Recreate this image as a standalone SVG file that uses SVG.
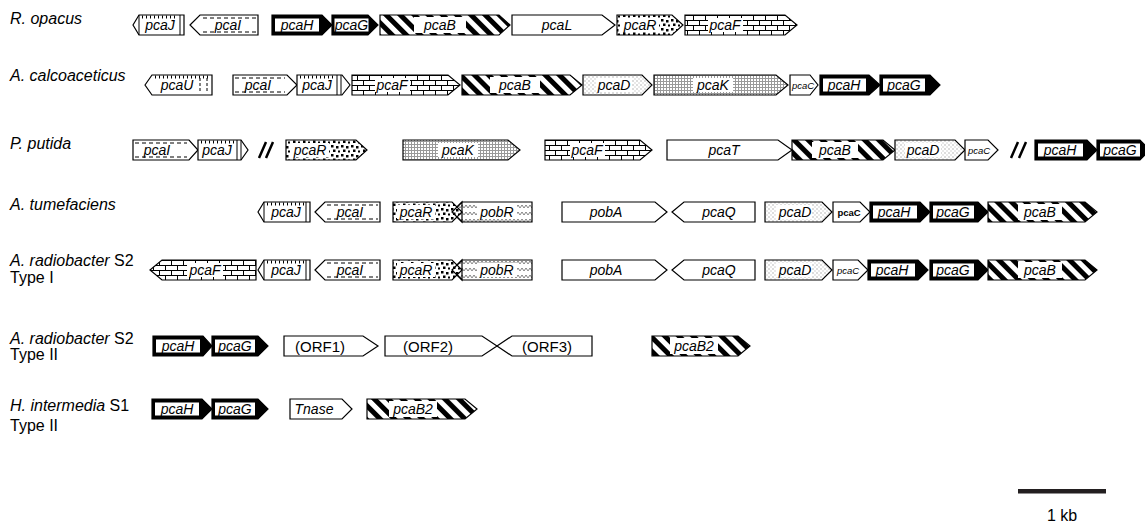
<svg xmlns="http://www.w3.org/2000/svg" width="1145" height="524" viewBox="0 0 1145 524">
<style>
.o{stroke:#000;stroke-width:1.2;stroke-linejoin:miter}
.w{fill:#fff}
.k{fill:#000}
.st{fill:url(#stripe)}
.br{fill:url(#brick)}
.dt{fill:url(#dots)}
.sp{fill:url(#stip)}
.gr{fill:url(#grid)}
.wv{fill:url(#wave)}
.nf{fill:none}
.bg{fill:#fff}
.tk{stroke:#000;stroke-width:3;stroke-dasharray:1 3;fill:none}
.ds{stroke:#000;stroke-width:1;stroke-dasharray:4 3;fill:none}
.ln{stroke:#000;stroke-width:1;fill:none}
.sl{stroke:#000;stroke-width:2.5;fill:none}
.t{font-family:"Liberation Sans",Arial,sans-serif;font-size:14px;font-style:italic;text-anchor:middle;fill:#000}
.c{font-family:"Liberation Sans",Arial,sans-serif;font-size:9.5px;font-style:italic;text-anchor:middle;fill:#000}
.cb{font-family:"Liberation Sans",Arial,sans-serif;font-size:9.5px;font-weight:bold;text-anchor:middle;fill:#000}
.n{font-family:"Liberation Sans",Arial,sans-serif;font-size:15px;text-anchor:middle;fill:#000}
.lb{font-family:"Liberation Sans",Arial,sans-serif;font-size:16px;fill:#000}
.i{font-style:italic}
</style>
<defs>
<pattern id="stripe" width="10" height="10" patternUnits="userSpaceOnUse" patternTransform="rotate(-45)">
<rect width="10" height="10" fill="#fff"/><rect width="5" height="10" fill="#000"/>
</pattern>
<pattern id="brick" width="12" height="10" patternUnits="userSpaceOnUse">
<rect width="12" height="10" fill="#fff"/>
<path d="M0 0.5H12M0 5.5H12M3.5 0.5V5.5M9.5 5.5V10" stroke="#000" stroke-width="1" fill="none"/>
</pattern>
<pattern id="dots" width="10" height="9" patternUnits="userSpaceOnUse">
<rect width="10" height="9" fill="#fff"/>
<rect x="1" y="1" width="2.5" height="2.5" fill="#000"/><rect x="6" y="2" width="2.5" height="2.5" fill="#000"/>
<rect x="3" y="5.5" width="2.5" height="2.5" fill="#000"/><rect x="8" y="6.5" width="2" height="2" fill="#000"/>
</pattern>
<pattern id="stip" width="4" height="4" patternUnits="userSpaceOnUse">
<rect width="4" height="4" fill="#fff"/>
<rect x="0.5" y="0.5" width="1" height="1" fill="#777"/><rect x="2.5" y="2.5" width="1" height="1" fill="#aaa"/>
</pattern>
<pattern id="grid" width="3" height="3" patternUnits="userSpaceOnUse">
<rect width="3" height="3" fill="#fff"/>
<path d="M0 0.5H3M0.5 0V3" stroke="#999" stroke-width="1" fill="none"/>
</pattern>
<pattern id="wave" width="8" height="7" patternUnits="userSpaceOnUse">
<rect width="8" height="7" fill="#fff"/>
<path d="M0 5 L2 2 L4 5 L6 2 L8 5" fill="none" stroke="#666" stroke-width="0.8"/>
</pattern>
</defs>
<rect width="1145" height="524" fill="#fff"/>

<g id="labels">
<text class="lb i" x="10" y="24">R. opacus</text>
<text class="lb i" x="10" y="81">A. calcoaceticus</text>
<text class="lb i" x="10" y="149">P. putida</text>
<text class="lb i" x="10" y="210">A. tumefaciens</text>
<text class="lb" x="10" y="266"><tspan class="i">A. radiobacter</tspan> S2</text>
<text class="lb" x="10" y="283">Type I</text>
<text class="lb" x="10" y="344"><tspan class="i">A. radiobacter</tspan> S2</text>
<text class="lb" x="10" y="360">Type II</text>
<text class="lb" x="10" y="411"><tspan class="i">H. intermedia</tspan> S1</text>
<text class="lb" x="10" y="431">Type II</text>
</g>

<g id="connectors"></g>

<!-- Row 1 R. opacus -->
<g id="r1-pcaJ"><polygon class="w o" points="133,25 139,15 184,15 184,35 139,35"/><path class="ln" d="M139 15V35M180 15V35"/><path class="tk" d="M142 17H178"/><text class="t" x="160" y="30">pcaJ</text></g>
<g id="r1-pcaI"><polygon class="w o" points="190,25 200,15 258,15 258,35 200,35"/><path class="ds" d="M203 18H256M203 32H256"/><text class="t" x="228" y="30">pcaI</text></g>
<g id="r1-pcaH"><polygon class="k o" points="272,15 322,15 332,25 322,35 272,35"/><rect class="bg" x="275" y="18.5" width="44" height="13"/><text class="t" x="297" y="30">pcaH</text></g>
<g id="r1-pcaG"><polygon class="k o" points="332,15 368,15 378,25 368,35 332,35"/><rect class="bg" x="334.5" y="18.5" width="34" height="13"/><text class="t" x="351.5" y="30">pcaG</text></g>
<g id="r1-pcaB"><polygon class="st o" points="380,15 499,15 510,25 499,35 380,35"/><rect class="bg" x="414" y="17" width="52" height="16"/><text class="t" x="440" y="30">pcaB</text></g>
<g id="r1-pcaL"><polygon class="w o" points="512,15 602,15 615,25 602,35 512,35"/><text class="t" x="557" y="30">pcaL</text></g>
<g id="r1-pcaR"><polygon class="dt o" points="617,15 672,15 683,25 672,35 617,35"/><rect class="bg" x="621" y="18" width="38" height="14"/><text class="t" x="640" y="30">pcaR</text></g>
<g id="r1-pcaF"><polygon class="br o" points="685,15 785,15 797,25 785,35 685,35"/><rect class="bg" x="708" y="18" width="35" height="14"/><text class="t" x="725" y="30">pcaF</text></g>

<!-- Row 2 A. calcoaceticus -->
<g id="r2-pcaU"><polygon class="w o" points="145,85 152,75 212,75 212,95 152,95"/><path class="tk" d="M155 77H210"/><path class="ln" d="M200 78V92M207 78V92" stroke-dasharray="3 2"/><text class="t" x="177" y="90">pcaU</text></g>
<g id="r2-pcaI"><polygon class="w o" points="233,75 287,75 297,85 287,95 233,95"/><path class="ds" d="M235 78H285M235 92H285"/><text class="t" x="258" y="90">pcaI</text></g>
<g id="r2-pcaJ"><polygon class="w o" points="297,75 342,75 350,85 342,95 297,95"/><path class="ln" d="M337 75V95M341 75V95"/><path class="tk" d="M300 77H335"/><text class="t" x="317" y="90">pcaJ</text></g>
<g id="r2-pcaF"><polygon class="br o" points="352,75 448,75 460,85 448,95 352,95"/><rect class="bg" x="375" y="78" width="35" height="14"/><text class="t" x="392" y="90">pcaF</text></g>
<g id="r2-pcaB"><polygon class="st o" points="462,75 570,75 582,85 570,95 462,95"/><rect class="bg" x="490" y="77" width="50" height="16"/><text class="t" x="515" y="90">pcaB</text></g>
<g id="r2-pcaD"><polygon class="sp o" points="583,75 642,75 652,85 642,95 583,95"/><rect class="bg" x="596" y="78" width="36" height="14"/><text class="t" x="614" y="90">pcaD</text></g>
<g id="r2-pcaK"><polygon class="gr o" points="654,75 776,75 788,85 776,95 654,95"/><rect class="bg" x="693" y="78" width="40" height="14"/><text class="t" x="713" y="90">pcaK</text></g>
<g id="r2-pcaC"><polygon class="w o" points="790,75 810,75 818,85 810,95 790,95"/><text class="c" x="803" y="88.5">pcaC</text></g>
<g id="r2-pcaH"><polygon class="k o" points="820,75 869,75 880,85 869,95 820,95"/><rect class="bg" x="823" y="78.5" width="43" height="13"/><text class="t" x="844" y="90">pcaH</text></g>
<g id="r2-pcaG"><polygon class="k o" points="880,75 930,75 940,85 930,95 880,95"/><rect class="bg" x="883" y="78.5" width="42" height="13"/><text class="t" x="904" y="90">pcaG</text></g>

<!-- Row 3 P. putida -->
<g id="r3-pcaI"><polygon class="w o" points="133,140 189,140 198,150 189,160 133,160"/><path class="ds" d="M135 143H187M135 157H187"/><text class="t" x="157" y="155">pcaI</text></g>
<g id="r3-pcaJ"><polygon class="w o" points="198,140 241,140 248,150 241,160 198,160"/><path class="ln" d="M237 140V160M241 140V160"/><path class="tk" d="M201 142H235"/><text class="t" x="217" y="155">pcaJ</text></g>
<g id="r3-pcaR"><polygon class="dt o" points="286,140 356,140 367,150 356,160 286,160"/><rect class="bg" x="291" y="143" width="38" height="14"/><text class="t" x="310" y="155">pcaR</text></g>
<g id="r3-pcaK"><polygon class="gr o" points="403,140 508,140 520,150 508,160 403,160"/><rect class="bg" x="438" y="143" width="40" height="14"/><text class="t" x="458" y="155">pcaK</text></g>
<g id="r3-pcaF"><polygon class="br o" points="545,140 640,140 652,150 640,160 545,160"/><rect class="bg" x="570" y="143" width="35" height="14"/><text class="t" x="587" y="155">pcaF</text></g>
<g id="r3-pcaT"><polygon class="w o" points="667,140 778,140 792,150 778,160 667,160"/><text class="t" x="724" y="155">pcaT</text></g>
<g id="r3-pcaB"><polygon class="st o" points="792,140 883,140 895,150 883,160 792,160"/><rect class="bg" x="812" y="142" width="46" height="16"/><text class="t" x="835" y="155">pcaB</text></g>
<g id="r3-pcaD"><polygon class="sp o" points="895,140 955,140 965,150 955,160 895,160"/><rect class="bg" x="905" y="143" width="36" height="14"/><text class="t" x="923" y="155">pcaD</text></g>
<g id="r3-pcaC"><polygon class="w o" points="965,140 988,140 998,150 988,160 965,160"/><text class="c" x="979" y="153.5">pcaC</text></g>
<g id="r3-pcaH"><polygon class="k o" points="1035,140 1087,140 1097,150 1087,160 1035,160"/><rect class="bg" x="1038" y="143.5" width="45" height="13"/><text class="t" x="1060" y="155">pcaH</text></g>
<g id="r3-pcaG"><polygon class="k o" points="1097,140 1140,140 1150,150 1140,160 1097,160"/><rect class="bg" x="1100" y="143.5" width="40" height="13"/><text class="t" x="1120" y="155">pcaG</text></g>
<g id="r3-breaks"><path class="sl" d="M259 158L266 142M266 158L273 142M1011 158L1018 142M1019 158L1026 142"/></g>

<!-- Row 4 A. tumefaciens -->
<g id="r4-pcaJ"><polygon class="w o" points="258,212 264,202 310,202 310,222 264,222"/><path class="ln" d="M264 202V222M306 202V222"/><path class="tk" d="M267 204H304"/><text class="t" x="286" y="217">pcaJ</text></g>
<g id="r4-pcaI"><polygon class="w o" points="315,212 325,202 380,202 380,222 325,222"/><path class="ds" d="M327 205H378M327 219H378"/><text class="t" x="350" y="217">pcaI</text></g>
<g id="r4-pobR"><polygon class="wv o" points="452,212 462,202 532,202 532,222 462,222"/><rect class="bg" x="477" y="205" width="40" height="14"/><text class="t" x="497" y="217">pobR</text></g>
<g id="r4-pcaR"><polygon class="dt o" points="393,202 452,202 462,212 452,222 393,222"/><polygon class="nf o" points="452,212 462,202 462,222"/><rect class="bg" x="397" y="205" width="38" height="14"/><text class="t" x="416" y="217">pcaR</text></g>
<g id="r4-pobA"><polygon class="w o" points="562,202 655,202 667,212 655,222 562,222"/><text class="t" x="606" y="217">pobA</text></g>
<g id="r4-pcaQ"><polygon class="w o" points="672,212 684,202 755,202 755,222 684,222"/><text class="t" x="719" y="217">pcaQ</text></g>
<g id="r4-pcaD"><polygon class="sp o" points="765,202 822,202 832,212 822,222 765,222"/><rect class="bg" x="776" y="205" width="36" height="14"/><text class="t" x="795" y="217">pcaD</text></g>
<g id="r4-pcaC"><polygon class="w o" points="833,202 860,202 870,212 860,222 833,222"/><text class="cb" x="849" y="215.5">pcaC</text></g>
<g id="r4-pcaH"><polygon class="k o" points="870,202 920,202 930,212 920,222 870,222"/><rect class="bg" x="873" y="205.5" width="44" height="13"/><text class="t" x="894" y="217">pcaH</text></g>
<g id="r4-pcaG"><polygon class="k o" points="930,202 978,202 988,212 978,222 930,222"/><rect class="bg" x="933" y="205.5" width="41" height="13"/><text class="t" x="953" y="217">pcaG</text></g>
<g id="r4-pcaB"><polygon class="st o" points="988,202 1085,202 1097,212 1085,222 988,222"/><rect class="bg" x="1018" y="204" width="44" height="16"/><text class="t" x="1040" y="217">pcaB</text></g>

<!-- Row 5 A. radiobacter S2 Type I -->
<g id="r5-pcaF"><polygon class="br o" points="150,270 162,260 256,260 256,280 162,280"/><rect class="bg" x="187" y="263" width="36" height="14"/><text class="t" x="205" y="275">pcaF</text></g>
<g id="r5-pcaJ"><polygon class="w o" points="258,270 264,260 310,260 310,280 264,280"/><path class="ln" d="M264 260V280M306 260V280"/><path class="tk" d="M267 262H304"/><text class="t" x="286" y="275">pcaJ</text></g>
<g id="r5-pcaI"><polygon class="w o" points="315,270 325,260 380,260 380,280 325,280"/><path class="ds" d="M327 263H378M327 277H378"/><text class="t" x="350" y="275">pcaI</text></g>
<g id="r5-pobR"><polygon class="wv o" points="452,270 462,260 532,260 532,280 462,280"/><rect class="bg" x="477" y="263" width="40" height="14"/><text class="t" x="497" y="275">pobR</text></g>
<g id="r5-pcaR"><polygon class="dt o" points="393,260 452,260 462,270 452,280 393,280"/><polygon class="nf o" points="452,270 462,260 462,280"/><rect class="bg" x="397" y="263" width="38" height="14"/><text class="t" x="416" y="275">pcaR</text></g>
<g id="r5-pobA"><polygon class="w o" points="562,260 655,260 667,270 655,280 562,280"/><text class="t" x="606" y="275">pobA</text></g>
<g id="r5-pcaQ"><polygon class="w o" points="672,270 684,260 755,260 755,280 684,280"/><text class="t" x="719" y="275">pcaQ</text></g>
<g id="r5-pcaD"><polygon class="sp o" points="765,260 822,260 832,270 822,280 765,280"/><rect class="bg" x="776" y="263" width="36" height="14"/><text class="t" x="795" y="275">pcaD</text></g>
<g id="r5-pcaC"><polygon class="w o" points="833,260 858,260 868,270 858,280 833,280"/><text class="c" x="848" y="273.5">pcaC</text></g>
<g id="r5-pcaH"><polygon class="k o" points="868,260 918,260 928,270 918,280 868,280"/><rect class="bg" x="871" y="263.5" width="44" height="13"/><text class="t" x="892" y="275">pcaH</text></g>
<g id="r5-pcaG"><polygon class="k o" points="930,260 978,260 988,270 978,280 930,280"/><rect class="bg" x="933" y="263.5" width="41" height="13"/><text class="t" x="953" y="275">pcaG</text></g>
<g id="r5-pcaB"><polygon class="st o" points="988,260 1085,260 1097,270 1085,280 988,280"/><rect class="bg" x="1018" y="262" width="44" height="16"/><text class="t" x="1040" y="275">pcaB</text></g>

<!-- Row 6 A. radiobacter S2 Type II -->
<g id="r6-pcaH"><polygon class="k o" points="153,336 203,336 212,346 203,356 153,356"/><rect class="bg" x="156" y="339.5" width="44" height="13"/><text class="t" x="178" y="351">pcaH</text></g>
<g id="r6-pcaG"><polygon class="k o" points="212,336 258,336 268,346 258,356 212,356"/><rect class="bg" x="215" y="339.5" width="40" height="13"/><text class="t" x="235" y="351">pcaG</text></g>
<g id="r6-ORF1"><polygon class="w o" points="284,336 363,336 378,346 363,356 284,356"/><text class="n" x="320" y="351.5">(ORF1)</text></g>
<g id="r6-ORF2"><polygon class="w o" points="385,336 482,336 497,346 482,356 385,356"/><text class="n" x="428" y="351.5">(ORF2)</text></g>
<g id="r6-ORF3"><polygon class="w o" points="497,346 512,336 592,336 592,356 512,356"/><text class="n" x="547" y="351.5">(ORF3)</text></g>
<g id="r6-pcaB2"><polygon class="st o" points="652,336 738,336 750,346 738,356 652,356"/><rect class="bg" x="670" y="338" width="48" height="16"/><text class="t" x="694" y="351">pcaB2</text></g>

<!-- Row 7 H. intermedia S1 Type II -->
<g id="r7-pcaH"><polygon class="k o" points="152,399 202,399 212,409 202,419 152,419"/><rect class="bg" x="155" y="402.5" width="44" height="13"/><text class="t" x="177" y="414">pcaH</text></g>
<g id="r7-pcaG"><polygon class="k o" points="212,399 258,399 268,409 258,419 212,419"/><rect class="bg" x="215" y="402.5" width="40" height="13"/><text class="t" x="235" y="414">pcaG</text></g>
<g id="r7-Tnase"><polygon class="w o" points="290,399 342,399 352,409 342,419 290,419"/><text class="t" x="314" y="414">Tnase</text></g>
<g id="r7-pcaB2"><polygon class="st o" points="367,399 465,399 477,409 465,419 367,419"/><rect class="bg" x="389" y="401" width="48" height="16"/><text class="t" x="413" y="414">pcaB2</text></g>

<g id="scale"><rect x="1018" y="489" width="88" height="4.5" fill="#231f20"/><text class="lb" x="1062" y="521" text-anchor="middle" font-size="14">1 kb</text></g>
</svg>
